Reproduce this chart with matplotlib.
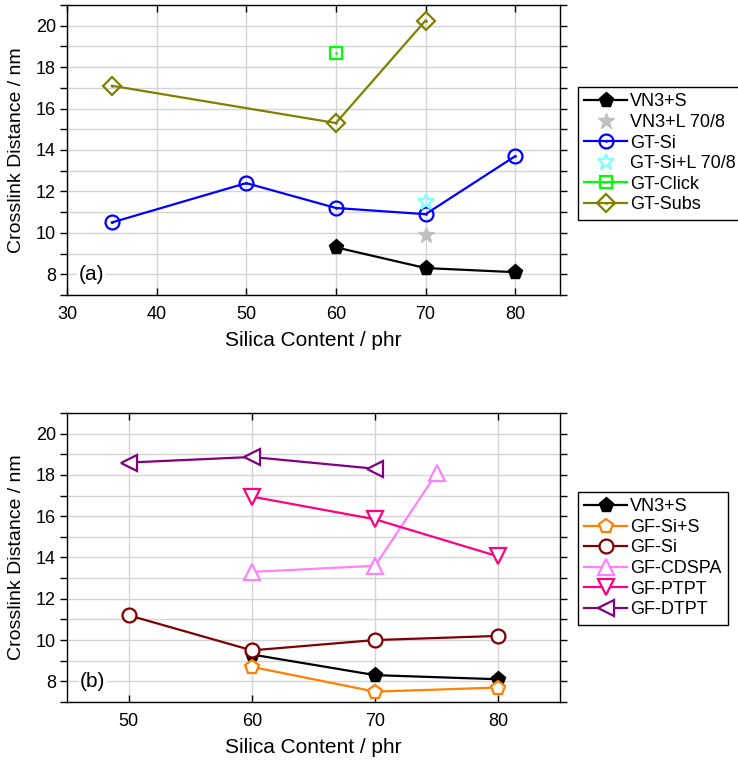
import matplotlib.pyplot as plt
from matplotlib.ticker import MultipleLocator
from matplotlib.legend_handler import HandlerTuple

plt.rcParams['font.family'] = ['Liberation Sans', 'DejaVu Sans']

# panel (a)
vn3_s_x = [60, 70, 80]
vn3_s_y = [9.3, 8.3, 8.1]
vn3_l_x = [70]
vn3_l_y = [9.9]
gt_si_x = [35, 50, 60, 70, 80]
gt_si_y = [10.5, 12.4, 11.2, 10.9, 13.7]
gt_si_l_x = [70]
gt_si_l_y = [11.5]
gt_click_x = [60]
gt_click_y = [18.7]
gt_subs_x = [35, 60, 70]
gt_subs_y = [17.1, 15.3, 20.25]

# panel (b)
gf_si_s_x = [60, 70, 80]
gf_si_s_y = [8.7, 7.5, 7.7]
gf_si_x = [50, 60, 70, 80]
gf_si_y = [11.2, 9.5, 10.0, 10.2]
gf_cdspa_x = [60, 70, 75]
gf_cdspa_y = [13.3, 13.6, 18.1]
gf_ptpt_x = [60, 70, 80]
gf_ptpt_y = [16.95, 15.85, 14.05]
gf_dtpt_x = [50, 60, 70]
gf_dtpt_y = [18.6, 18.87, 18.3]

fig = plt.figure(figsize=(7.38, 7.64), dpi=100)
ax1 = fig.add_axes([0.0908, 0.6139, 0.668, 0.3796])
ax2 = fig.add_axes([0.0908, 0.0812, 0.668, 0.3782])


def style(ax, xlim, xticks):
    ax.set_xlim(*xlim)
    ax.set_ylim(7, 21)
    ax.set_xticks(xticks)
    ax.yaxis.set_major_locator(MultipleLocator(2))
    ax.yaxis.set_minor_locator(MultipleLocator(1))
    ax.grid(True, which='both', axis='y', color='#d4d4d4', lw=1.0)
    ax.grid(True, which='major', axis='x', color='#d4d4d4', lw=1.0)
    ax.set_axisbelow(True)
    ax.tick_params(axis='y', which='both', direction='out', length=5,
                   width=1, labelsize=13, right=True, pad=3)
    ax.tick_params(axis='x', which='both', direction='in', length=5,
                   width=1, labelsize=13, top=True, pad=8)
    for s in ax.spines.values():
        s.set_linewidth(1.0)
    ax.set_xlabel('Silica Content / phr', fontsize=15, labelpad=6)
    ax.set_ylabel('Crosslink Distance / nm', fontsize=14, labelpad=8)


def dotted(ax, x, y, marker, color, ms, ls='-'):
    # hollow marker with a small dot in the middle
    a, = ax.plot(x, y, ls, color=color, marker=marker, ms=ms, mfc='none',
                 mec=color, mew=1.6, lw=1.6)
    b, = ax.plot(x, y, ls='none', marker='o', ms=2, mew=0, color=color)
    return (a, b)


leg_kw = dict(loc='upper left', fontsize=13, frameon=True, fancybox=False,
              edgecolor='black', framealpha=1, handlelength=2.4,
              handletextpad=0.15, labelspacing=0.2, borderpad=0.35,
              borderaxespad=0)

style(ax1, (30, 85), [30, 40, 50, 60, 70, 80])
h1 = []
h1.append(ax1.plot(vn3_s_x, vn3_s_y, '-', color='black', marker='p', ms=11,
                   lw=1.6)[0])
h1.append(ax1.plot(vn3_l_x, vn3_l_y, ls='none', marker='*', ms=12,
                   color='#c0c0c0')[0])
h1.append(dotted(ax1, gt_si_x, gt_si_y, 'o', '#0000ff', 10))
h1.append(ax1.plot(gt_si_l_x, gt_si_l_y, ls='none', marker='*', ms=12,
                   mfc='none', mec='#80ffff', mew=1.6)[0])
h1.append(dotted(ax1, gt_click_x, gt_click_y, 's', '#00ff00', 8, ls='none'))
h1.append(dotted(ax1, gt_subs_x, gt_subs_y, 'D', '#808000', 9))
ax1.text(32.7, 8, '(a)', fontsize=15, va='center', ha='center',
         bbox=dict(fc='white', ec='none', pad=1))
ax1.legend(h1, ['VN3+S', 'VN3+L 70/8', 'GT-Si', 'GT-Si+L 70/8', 'GT-Click',
                'GT-Subs'],
           handler_map={tuple: HandlerTuple(ndivide=1)},
           bbox_to_anchor=(1.036, 0.717), **leg_kw)

style(ax2, (45, 85), [50, 60, 70, 80])
h2 = []
h2.append(ax2.plot(vn3_s_x, vn3_s_y, '-', color='black', marker='p', ms=11,
                   lw=1.6)[0])
for x, y, m, c, ms in [(gf_si_s_x, gf_si_s_y, 'p', '#ff8000', 10),
                       (gf_si_x, gf_si_y, 'o', '#800000', 10),
                       (gf_cdspa_x, gf_cdspa_y, '^', '#ff80ff', 11),
                       (gf_ptpt_x, gf_ptpt_y, 'v', '#ff0080', 11),
                       (gf_dtpt_x, gf_dtpt_y, '<', '#800080', 11)]:
    h2.append(ax2.plot(x, y, '-', color=c, marker=m, ms=ms, mfc='white',
                       mec=c, mew=1.6, lw=1.6)[0])
ax2.text(47.1, 8, '(b)', fontsize=15, va='center', ha='center',
         bbox=dict(fc='white', ec='none', pad=1))
ax2.legend(h2, ['VN3+S', 'GF-Si+S', 'GF-Si', 'GF-CDSPA', 'GF-PTPT',
                'GF-DTPT'],
           bbox_to_anchor=(1.036, 0.727), **leg_kw)

fig.savefig('out.png', dpi=100)
